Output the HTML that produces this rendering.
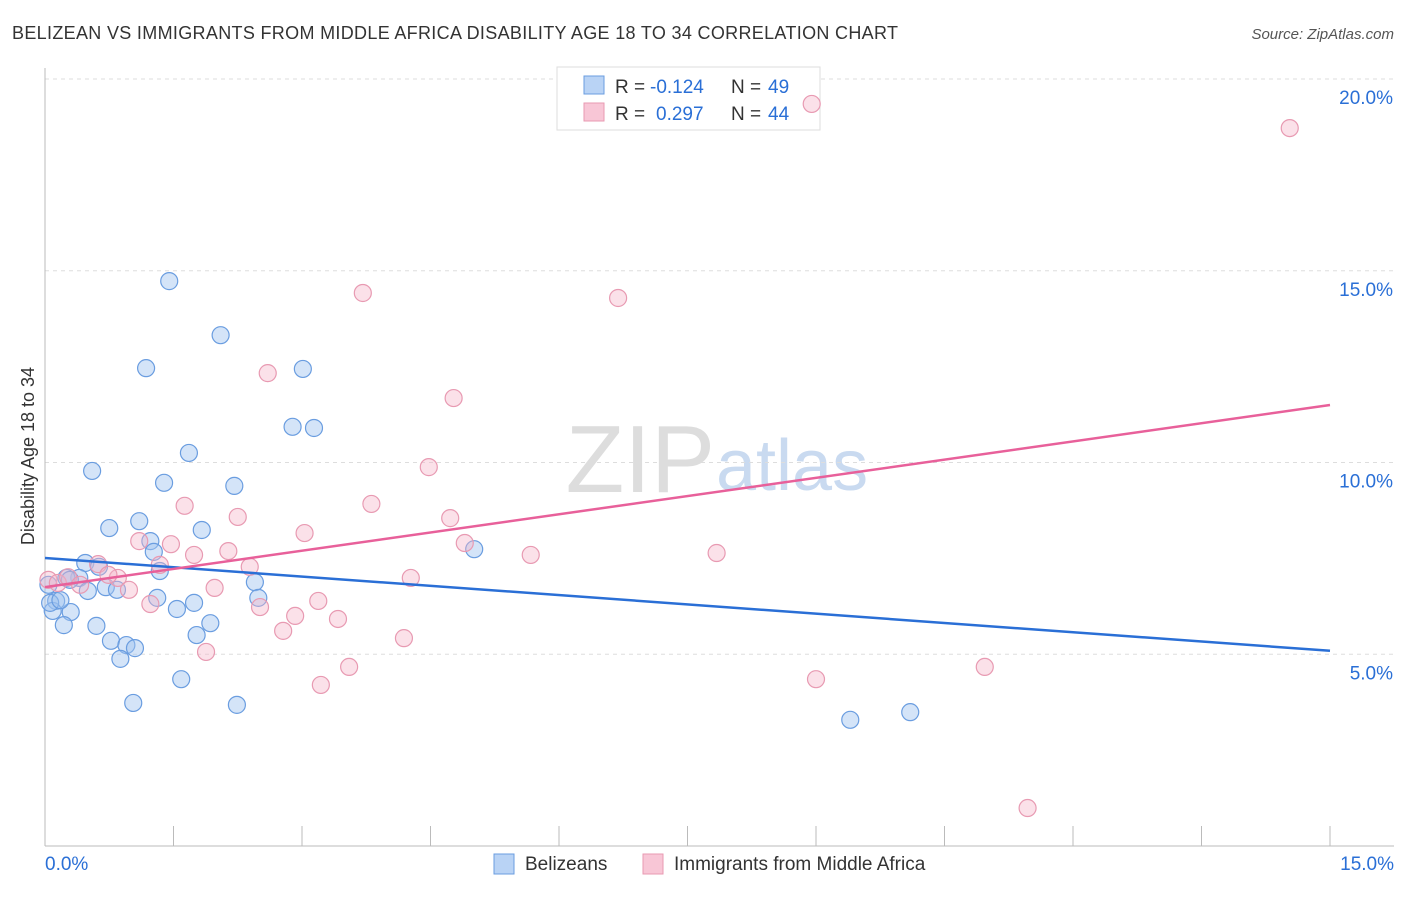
<!DOCTYPE html>
<html><head><meta charset="utf-8"><style>
body{margin:0;background:#fff;font-family:"Liberation Sans",sans-serif;}
svg text{font-family:"Liberation Sans",sans-serif;}
</style></head><body>
<svg id="c" width="1406" height="892">
<text x="12" y="39" font-size="18" fill="#333" textLength="886">BELIZEAN VS IMMIGRANTS FROM MIDDLE AFRICA DISABILITY AGE 18 TO 34 CORRELATION CHART</text>
<text x="1394" y="39" font-size="15" fill="#555" text-anchor="end" font-style="italic">Source: ZipAtlas.com</text>
<text x="715" y="492" font-size="96" fill="#ddd" text-anchor="end" font-family="Liberation Serif">ZIP</text>
<text x="716" y="490" font-size="72" fill="#c9daf0">atlas</text>
<g id="grid"></g>
<g id="axes"></g>
<g>
<rect x="557" y="67" width="263" height="63" fill="#fff" stroke="#ddd"/>
<rect x="584" y="76" width="20" height="18" fill="#b9d3f5" stroke="#6a9de0"/>
<rect x="584" y="103" width="20" height="18" fill="#f8c6d6" stroke="#e89ab2"/>
<text x="615" y="93" font-size="19" fill="#333">R =</text>
<text x="650" y="93" font-size="19" fill="#2a6fd6">-0.124</text>
<text x="731" y="93" font-size="19" fill="#333">N =</text>
<text x="768" y="93" font-size="19" fill="#2a6fd6">49</text>
<text x="615" y="120" font-size="19" fill="#333">R =</text>
<text x="656" y="120" font-size="19" fill="#2a6fd6">0.297</text>
<text x="731" y="120" font-size="19" fill="#333">N =</text>
<text x="768" y="120" font-size="19" fill="#2a6fd6">44</text>
</g>
<g id="pts"></g>
<g id="lines"></g>
<text transform="translate(34,456) rotate(-90)" font-size="18" fill="#333" text-anchor="middle">Disability Age 18 to 34</text>
<g>
<rect x="494" y="854" width="20" height="20" fill="#b9d3f5" stroke="#6a9de0"/>
<text x="525" y="870" font-size="19" fill="#333">Belizeans</text>
<rect x="643" y="854" width="20" height="20" fill="#f8c6d6" stroke="#e89ab2"/>
<text x="674" y="870" font-size="19" fill="#333">Immigrants from Middle Africa</text>
</g>
</svg>
<script>
const blueX=[1.45,2.05,1.18,3.01,2.89,3.14,0.55,1.68,1.39,2.21,1.10,0.75,1.83,1.23,1.27,0.47,0.63,1.34,2.45,0.40,0.71,0.84,0.50,1.31,2.49,0.13,0.09,0.30,1.74,1.54,1.93,0.22,0.60,1.77,0.77,0.95,1.05,0.88,1.59,1.03,2.24,5.01,9.40,10.10,0.06,0.18,0.04,0.25,0.29];
const blueY=[14.73,13.32,12.46,12.44,10.93,10.90,9.78,10.25,9.47,9.39,8.47,8.29,8.24,7.95,7.67,7.38,7.28,7.17,6.88,6.99,6.75,6.68,6.65,6.47,6.47,6.39,6.13,6.10,6.34,6.18,5.81,5.76,5.74,5.50,5.35,5.24,5.16,4.88,4.35,3.73,3.68,7.74,3.29,3.49,6.34,6.41,6.81,6.99,6.94];
const pinkX=[8.95,14.53,3.71,6.69,2.60,4.77,4.48,1.63,3.81,2.25,4.73,3.03,1.10,1.47,4.90,5.67,7.84,2.14,1.74,2.39,0.62,1.34,0.85,4.27,0.74,1.98,0.98,1.23,2.51,3.19,2.92,3.42,2.78,4.19,1.88,3.55,3.22,9.00,10.97,11.47,0.04,0.15,0.27,0.41];
const pinkY=[19.35,18.72,14.42,14.29,12.33,11.68,9.88,8.87,8.92,8.58,8.55,8.16,7.95,7.87,7.90,7.59,7.64,7.69,7.59,7.28,7.35,7.33,6.99,6.99,7.07,6.73,6.68,6.31,6.23,6.39,6.00,5.92,5.61,5.42,5.06,4.67,4.20,4.35,4.67,0.99,6.94,6.86,7.01,6.81];
const blueTrend=[7.51,5.09];
const pinkTrend=[6.75,11.5];
const yTicks=[5,10,15,20];
const xMin=0,xMax=15;
const NS='http://www.w3.org/2000/svg';
function sx(v){return 45+(v-xMin)/(xMax-xMin)*1285;}
function sy(v){return 846-v*38.35;}
function mk(p,tag,a){const e=document.createElementNS(NS,tag);for(const k in a)e.setAttribute(k,a[k]);p.appendChild(e);return e;}
const grid=document.getElementById('grid'),axes=document.getElementById('axes'),pts=document.getElementById('pts'),lines=document.getElementById('lines');
yTicks.forEach(t=>{
 const l=mk(grid,'line',{x1:45,x2:1394,y1:sy(t),y2:sy(t),stroke:'#ddd','stroke-dasharray':'4,4'});
 
 
 const tx=mk(axes,'text',{x:1393,y:sy(t)+25,'font-size':19,fill:'#2a6fd6','text-anchor':'end'});
 tx.textContent=t.toFixed(1)+'%';
 
 
});
mk(axes,'line',{x1:45,x2:45,y1:68,y2:846,stroke:'#bbb'});
mk(axes,'line',{x1:45,x2:1394,y1:846,y2:846,stroke:'#bbb'});
for(let i=0;i<=10;i++){const x=sx(i*1.5);const t=mk(axes,'line',{x1:x,x2:x,y1:826,y2:846,stroke:'#bbb'});
 
 }
const x0=mk(axes,'text',{x:45,y:870,'font-size':19,fill:'#2a6fd6'});x0.textContent='0.0%';


const x1=mk(axes,'text',{x:1394,y:870,'font-size':19,fill:'#2a6fd6','text-anchor':'end'});x1.textContent='15.0%';


blueX.forEach((v,i)=>{const c=mk(pts,'circle',{cx:sx(v),cy:sy(blueY[i]),r:8.5,fill:'rgba(160,196,240,0.45)',stroke:'#6a9de0','stroke-width':1.2});
 
 });
pinkX.forEach((v,i)=>{const c=mk(pts,'circle',{cx:sx(v),cy:sy(pinkY[i]),r:8.5,fill:'rgba(245,180,200,0.4)',stroke:'#e89ab2','stroke-width':1.2});
 
 });
const bl=mk(lines,'line',{x1:sx(0),x2:sx(15),y1:sy(blueTrend[0]),y2:sy(blueTrend[1]),stroke:'#2a6fd6','stroke-width':2.5});


const pl=mk(lines,'line',{x1:sx(0),x2:sx(15),y1:sy(pinkTrend[0]),y2:sy(pinkTrend[1]),stroke:'#e8609a','stroke-width':2.5});


</script>
</body></html>
